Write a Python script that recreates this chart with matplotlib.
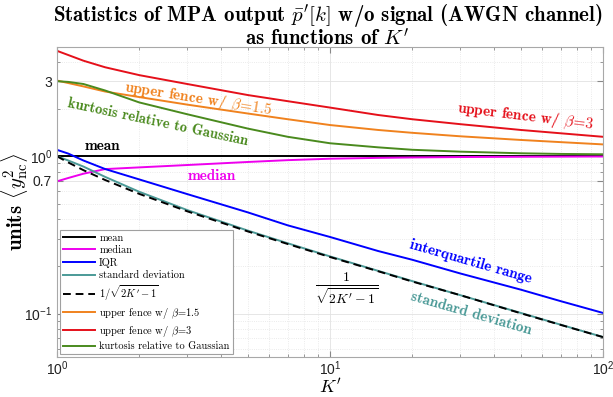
import numpy as np
import matplotlib
matplotlib.use('Agg')
import matplotlib.pyplot as plt
from matplotlib.ticker import FixedLocator, FixedFormatter, LogLocator, NullFormatter

plt.rcParams['mathtext.fontset'] = 'cm'
plt.rcParams['font.family'] = ['Liberation Sans', 'DejaVu Sans']
plt.rcParams['axes.unicode_minus'] = False

# values
K = [1, 1.1, 1.25, 1.5, 2, 3, 5, 7, 10, 15, 20, 30, 50, 70, 100]
mean = [1, 1, 1, 1, 1, 1, 1, 1, 1, 1, 1, 1, 1, 1, 1]
median = [0.693, 0.728, 0.775, 0.829, 0.85, 0.88, 0.92, 0.945, 0.965, 0.977, 0.983, 0.989, 0.993, 0.995, 0.997]
iqr = [1.099, 1.04, 0.94, 0.83, 0.713, 0.575, 0.44, 0.364, 0.307, 0.25, 0.22, 0.18, 0.142, 0.12, 0.101]
std = [1.0, 0.94, 0.86, 0.74, 0.595, 0.455, 0.337, 0.28, 0.231, 0.187, 0.161, 0.131, 0.101, 0.085, 0.071]
approx = [1.0, 0.913, 0.816, 0.707, 0.577, 0.447, 0.333, 0.277, 0.229, 0.186, 0.160, 0.131, 0.1005, 0.0848, 0.0709]
fence15 = [3.03, 2.92, 2.78, 2.58, 2.38, 2.13, 1.87, 1.72, 1.58, 1.47, 1.41, 1.34, 1.27, 1.23, 1.19]
fence3 = [4.68, 4.4, 4.05, 3.68, 3.28, 2.88, 2.45, 2.24, 2.04, 1.83, 1.72, 1.6, 1.47, 1.40, 1.33]
kurt = [3.0, 2.97, 2.88, 2.62, 2.2, 1.85, 1.5, 1.33, 1.21, 1.14, 1.1, 1.07, 1.045, 1.035, 1.03]

ytick_vals = [0.1, 0.7, 1, 3]
ytick_labels = [r'$\mathdefault{10^{-1}}$', '0.7', r'$\mathdefault{10^{0}}$', '3']
xtick_vals = [1, 10, 100]
xtick_labels = [r'$\mathdefault{10^{0}}$', r'$\mathdefault{10^{1}}$', r'$\mathdefault{10^{2}}$']

c_median = '#ee00ee'
c_iqr = '#0000ff'
c_std = '#4b9a97'
c_f15 = '#f0821e'
c_f3 = '#e5101a'
c_kurt = '#4a8a1e'

fig = plt.figure(figsize=(6.13, 3.97), dpi=100)
ax = fig.add_axes([57/613, 1-357/397, 546/613, 310/397])

lw = 1.4
ax.plot(K, mean, color='k', lw=lw, label='mean')
ax.plot(K, median, color=c_median, lw=lw, label='median')
ax.plot(K, iqr, color=c_iqr, lw=lw, label='IQR')
ax.plot(K, std, color=c_std, lw=lw, label='standard deviation')
ax.plot(K, approx, color='k', lw=lw, ls=(0, (4, 2.5)), label=r"$1/\sqrt{2K'-1}$")
ax.plot(K, fence15, color=c_f15, lw=lw, label=r'upper fence w/ $\beta\!=\!1.5$')
ax.plot(K, fence3, color=c_f3, lw=lw, label=r'upper fence w/ $\beta\!=\!3$')
ax.plot(K, kurt, color=c_kurt, lw=lw, label='kurtosis relative to Gaussian')

ax.set_xscale('log')
ax.set_yscale('log')
ax.set_xlim(1, 100)
ax.set_ylim(0.053, 4.95)

ax.yaxis.set_major_locator(FixedLocator(ytick_vals))
ax.yaxis.set_major_formatter(FixedFormatter(ytick_labels))
ax.yaxis.set_minor_locator(LogLocator(base=10, subs=np.arange(2, 10)))
ax.yaxis.set_minor_formatter(NullFormatter())
ax.xaxis.set_major_locator(FixedLocator(xtick_vals))
ax.xaxis.set_major_formatter(FixedFormatter(xtick_labels))
ax.xaxis.set_minor_locator(LogLocator(base=10, subs=np.arange(2, 10)))
ax.xaxis.set_minor_formatter(NullFormatter())

ax.tick_params(which='both', direction='in', top=True, right=True, colors='#888888',
               labelcolor='#222222', labelsize=10)
ax.tick_params(which='major', length=4)
ax.tick_params(which='minor', length=2)
ax.tick_params(axis='x', pad=2)
for s in ax.spines.values():
    s.set_color('#a8a8a8')
    s.set_linewidth(0.8)

ax.grid(which='major', color='#e2e2e2', lw=0.6, ls='-')
ax.grid(which='minor', color='#e4e4e4', lw=0.6, ls=':')
ax.set_axisbelow(True)

bold = dict(family='cmb10', fontsize=11)
ax.text(1.47, 1.16, 'mean', color='k', ha='center', va='center', **bold)
ax.text(3.7, 0.746, 'median', color=c_median, ha='center', va='center', **bold)
ax.text(3.28, 2.31, r'upper fence w/ $\beta\!=\!1.5$', color=c_f15, ha='center', va='center',
        rotation=-9, rotation_mode='anchor', **bold)
ax.text(2.34, 1.65, 'kurtosis relative to Gaussian', color=c_kurt, ha='center', va='center',
        rotation=-12, rotation_mode='anchor', family='cmb10', fontsize=10.5)
ax.text(51.8, 1.8, r'upper fence w/ $\beta\!=\!3$', color=c_f3, ha='center', va='center',
        rotation=-7, rotation_mode='anchor', **bold)
ax.text(32.8, 0.214, 'interquartile range', color=c_iqr, ha='center', va='center',
        rotation=-16, rotation_mode='anchor', **bold)
ax.text(32.8, 0.101, 'standard deviation', color=c_std, ha='center', va='center',
        rotation=-16, rotation_mode='anchor', **bold)
ax.text(11.5, 0.144, r"$\frac{\mathbf{1}}{\sqrt{\mathbf{2}K'-\mathbf{1}}}$", color='k',
        ha='center', va='center', fontsize=14)

fig.text(0.534, 1 - 2/397,
         "Statistics of MPA output $\\bar{p}'[k]$ w/o signal (AWGN channel)\nas functions of $K'$",
         family='cmb10', fontsize=15, ha='center', va='top', linespacing=0.95)

ax.set_xlabel(r"$K'$", fontsize=13)
ax.xaxis.set_label_coords(0.5, -0.068)
ax.set_ylabel(r'units $\langle y_{\mathrm{nc}}^2\rangle$', family='cmb10', fontsize=15)
ax.yaxis.set_label_coords(-0.05, 0.5)

leg = ax.legend(loc='lower left', prop={'family': 'cmr10', 'size': 7.5}, handlelength=3.1,
                fancybox=False, edgecolor='#a0a0a0', framealpha=1, borderaxespad=0.25,
                labelspacing=0.28, handletextpad=0.4, borderpad=0.3)
leg.get_frame().set_linewidth(0.8)

fig.savefig('out.png', dpi=100)
